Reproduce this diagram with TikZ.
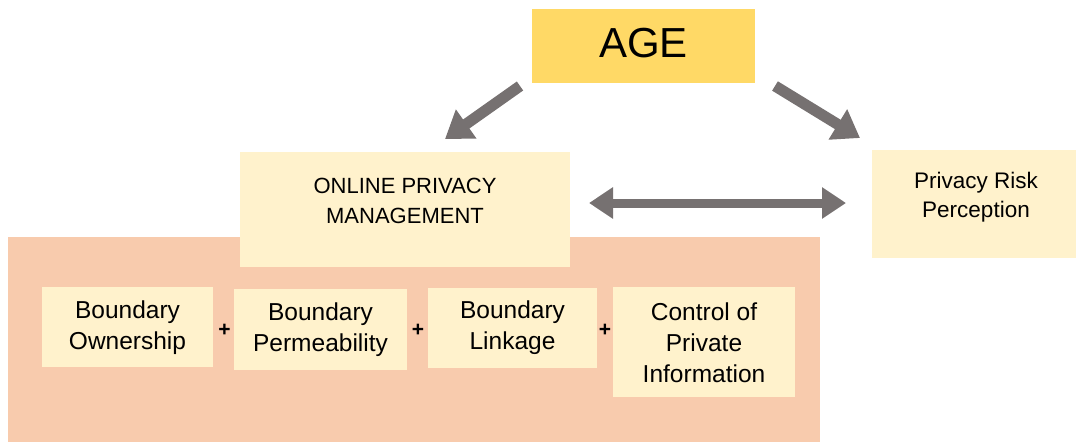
\documentclass[tikz,border=0pt]{standalone}
\usepackage{fontspec}
\setmainfont{Liberation Sans}
\usetikzlibrary{arrows.meta}
\definecolor{ageyellow}{HTML}{FFD966}
\definecolor{paleyellow}{HTML}{FFF2CC}
\definecolor{salmon}{HTML}{F8CBAD}
\definecolor{arrowgray}{HTML}{767171}
\tikzset{
  box/.style={fill=paleyellow, draw=none, inner sep=0pt, align=center},
  bigarrow/.style={draw=arrowgray, line width=11pt, -{Triangle[length=26pt,width=34pt]}},
  dblarrow/.style={draw=arrowgray, line width=9pt, {Triangle[length=24pt,width=30pt]}-{Triangle[length=24pt,width=30pt]}},
  plus/.style={font=\fontsize{21}{21}\selectfont\bfseries, inner sep=0pt},
  subtxt/.style={font=\fontsize{24.5}{31}\selectfont},
}
\begin{document}
\begin{tikzpicture}[x=1pt,y=-1pt]
\useasboundingbox (0,0) rectangle (1076,442);
% salmon background
\fill[salmon] (8,237) rectangle (820,442);
% AGE
\node[box, fill=ageyellow, minimum width=223pt, minimum height=74pt] (age) at (643.5,46) {};
\node[font=\fontsize{42}{44}\selectfont, inner sep=0pt] (agetxt) at (643.5,43) {AGE};
% Online privacy management
\node[box, minimum width=330pt, minimum height=115pt] (opm) at (405,209.5) {};
\node[align=center, font=\fontsize{22}{30}\selectfont, inner sep=0pt] (opmtxt) at (405,201) {ONLINE PRIVACY\\MANAGEMENT};
% Privacy risk perception
\node[box, minimum width=204pt, minimum height=108pt] (prp) at (974,204) {};
\node[align=center, font=\fontsize{22.5}{29}\selectfont, inner sep=0pt] (prptxt) at (976,197) {Privacy Risk\\Perception};
% sub boxes
\node[box, minimum width=171pt, minimum height=80pt] (own) at (127.5,327) {};
\node[box, minimum width=173pt, minimum height=81pt] (perm) at (320.5,329.5) {};
\node[box, minimum width=169pt, minimum height=80pt] (link) at (512.5,328) {};
\node[box, minimum width=182pt, minimum height=110pt] (ctrl) at (704,342) {};
\node[subtxt, align=center, inner sep=0pt] (owntxt) at (127.5,328) {Boundary\\Ownership};
\node[subtxt, align=center, inner sep=0pt] (permtxt) at (320.5,329.5) {Boundary\\Permeability};
\node[subtxt, align=center, inner sep=0pt] (linktxt) at (512.5,328) {Boundary\\Linkage};
\node[subtxt, align=center, inner sep=0pt] (ctrltxt) at (704,343) {Control of\\Private\\Information};
% plus signs
\node[plus] (p1) at (224.5,330) {+};
\node[plus] (p2) at (418,330) {+};
\node[plus] (p3) at (605,330) {+};
% arrows
\coordinate (a1s) at (520,86);
\coordinate (a1e) at (445,139);
\coordinate (a2s) at (775,86);
\coordinate (a2e) at (860,138);
\coordinate (a3s) at (589,203);
\coordinate (a3e) at (846,203);
\draw[bigarrow] (a1s) -- (a1e);
\draw[bigarrow] (a2s) -- (a2e);
\draw[dblarrow] (a3s) -- (a3e);
\end{tikzpicture}
\end{document}
